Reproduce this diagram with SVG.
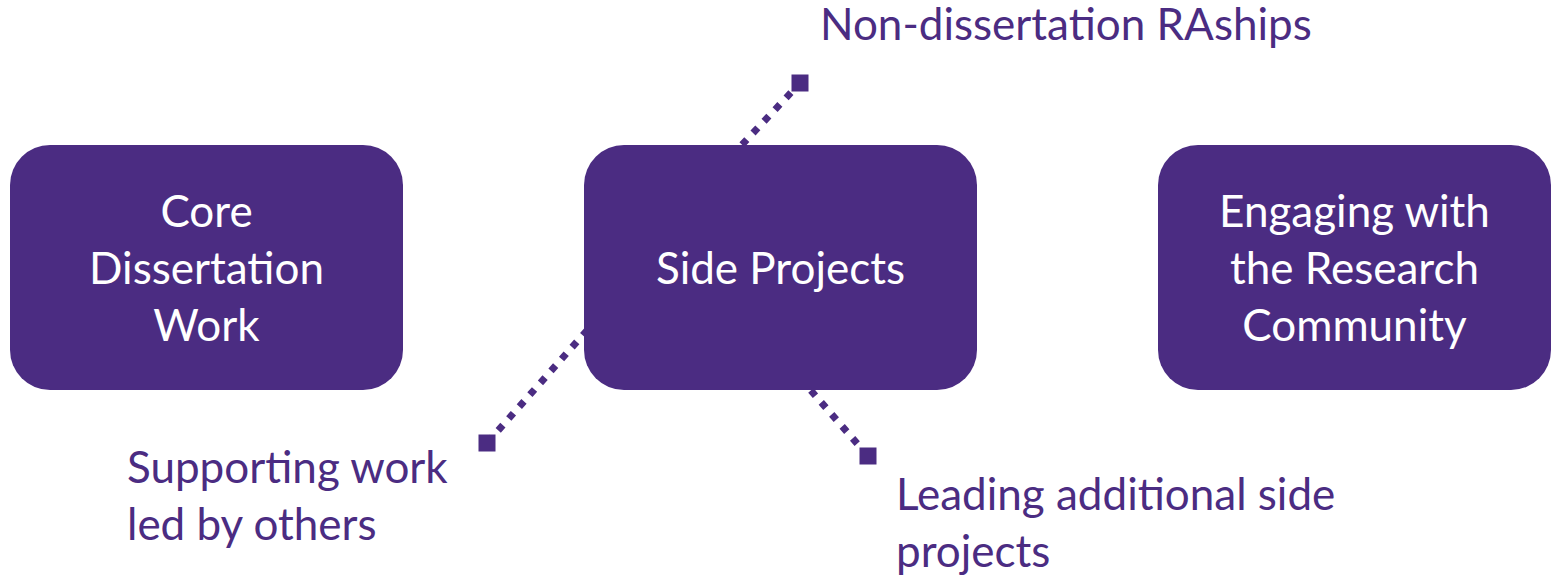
<svg xmlns="http://www.w3.org/2000/svg" width="1551" height="577" viewBox="0 0 1551 577">
<style>
.box{fill:#4B2C82}
.bt{font-family:Lato,"Open Sans",sans-serif;font-size:44px;fill:#ffffff;text-anchor:middle}
.lt{font-family:Lato,"Open Sans",sans-serif;font-size:44px;fill:#4B2C82}
.con{fill:none;stroke:#4B2C82;stroke-width:7;stroke-linecap:butt}
</style>
<defs>
<marker id="sq" markerUnits="userSpaceOnUse" markerWidth="18" markerHeight="18" refX="9" refY="9" orient="0">
<rect x="0.5" y="0.5" width="17" height="17" fill="#4B2C82"/>
</marker>
</defs>
<g id="connectors">
<path class="con" d="M800,83 L738,149" stroke-dasharray="7 9.1" stroke-dashoffset="2.8" marker-start="url(#sq)"/>
<path class="con" d="M487,443 L590,327" stroke-dasharray="7 8.9" stroke-dashoffset="14.9" marker-start="url(#sq)"/>
<path class="con" d="M868,456 L807,386" stroke-dasharray="7 8.9" stroke-dashoffset="15.4" marker-start="url(#sq)"/>
</g>
<g id="core">
<rect class="box" x="10" y="145" width="393" height="245" rx="40" ry="40"/>
<text class="bt" x="206.5" y="227">Core</text>
<text class="bt" x="206.5" y="284">Dissertation</text>
<text class="bt" x="206.5" y="341">Work</text>
</g>
<g id="side">
<rect class="box" x="584" y="145" width="393" height="245" rx="40" ry="40"/>
<text class="bt" x="780.5" y="284">Side Projects</text>
</g>
<g id="engaging">
<rect class="box" x="1158" y="145" width="393" height="245" rx="40" ry="40"/>
<text class="bt" x="1354.5" y="227">Engaging with</text>
<text class="bt" x="1354.5" y="284">the Research</text>
<text class="bt" x="1354.5" y="341">Community</text>
</g>
<g id="label-rships">
<text class="lt" x="820" y="40">Non-dissertation RAships</text>
</g>
<g id="label-supporting">
<text class="lt" x="127" y="483">Supporting work</text>
<text class="lt" x="127" y="540">led by others</text>
</g>
<g id="label-leading">
<text class="lt" x="896" y="510">Leading additional side</text>
<text class="lt" x="896" y="567">projects</text>
</g>
</svg>
